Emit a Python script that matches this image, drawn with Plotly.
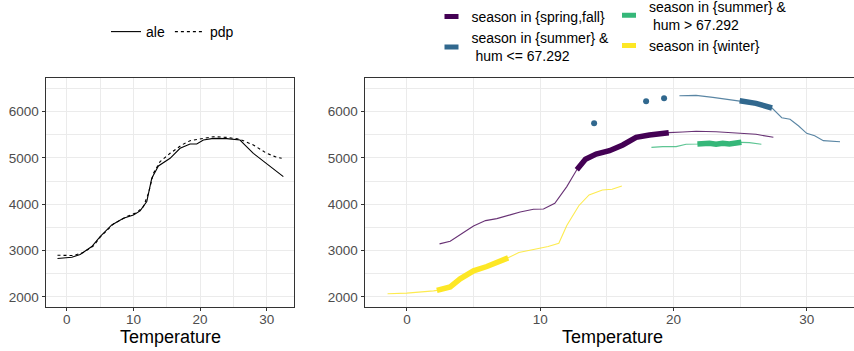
import plotly.graph_objects as go

# ---------------- data ----------------
# left panel: ale and pdp curves
ale_x = [-1.4, 0.75, 2, 3.75, 5, 6.75, 8.5, 10, 11, 12, 12.75, 13.75, 15.5, 17, 18.5, 19.5, 20.5, 22, 24, 26, 26.75, 28, 32.5]
ale_y = [2827, 2856, 2914, 3086, 3302, 3554, 3698, 3770, 3856, 4058, 4561, 4827, 4993, 5209, 5302, 5302, 5388, 5424, 5417, 5388, 5280, 5100, 4597]
pdp_x = [-1.4, 1, 2.5, 4, 5, 7, 9, 10.5, 11.5, 12.25, 13, 14, 15.5, 17.25, 18.5, 20, 22, 24, 26, 28, 30, 31.25, 32.25]
pdp_y = [2899, 2892, 2957, 3101, 3288, 3575, 3734, 3820, 3950, 4237, 4669, 4921, 5101, 5281, 5374, 5410, 5460, 5446, 5403, 5281, 5101, 5029, 4993]

# right panel: per-subgroup curves; flag = 1 where the curve is highlighted (thick)
spring_x = [2.45, 3.25, 4.25, 5, 5.9, 6.75, 7.75, 8.5, 9.5, 10.25, 11.1, 12, 12.75, 13.4, 14.2, 15.2, 16.2, 17.2, 18.2, 19.65, 20.7, 21.7, 23.2, 24.7, 26.2, 27.5]
spring_y = [3144, 3201, 3388, 3532, 3647, 3690, 3770, 3834, 3892, 3899, 4022, 4381, 4745, 4971, 5086, 5158, 5281, 5446, 5496, 5547, 5561, 5576, 5568, 5547, 5511, 5446]
spring_f = [0, 0, 0, 0, 0, 0, 0, 0, 0, 0, 0, 0, 1, 1, 1, 1, 1, 1, 1, 1, 0, 0, 0, 0, 0, 0]

sumlo_pts_x = [14.05, 17.95, 19.3]
sumlo_pts_y = [5750, 6225, 6290]
sumlo_x = [20.45, 21.7, 22.96, 23.97, 24.97, 26.2, 27.4, 28.13, 28.75, 29.4, 30.0, 30.6, 31.25, 32.5]
sumlo_y = [6345, 6353, 6309, 6266, 6237, 6180, 6080, 5870, 5836, 5690, 5533, 5482, 5374, 5352]
sumlo_f = [0, 0, 0, 0, 1, 1, 1, 0, 0, 0, 0, 0, 0, 0]

sumhi_x = [18.35, 19.2, 20.2, 20.95, 21.8, 22.7, 23.2, 23.7, 24.2, 25.1, 25.7, 26.6]
sumhi_y = [5230, 5245, 5245, 5295, 5302, 5317, 5295, 5317, 5302, 5338, 5331, 5295]
sumhi_f = [0, 0, 0, 0, 1, 1, 1, 1, 1, 1, 0, 0]

winter_x = [-1.45, 0, 2, 2.25, 3.25, 4, 5, 6, 7, 7.6, 8.4, 9.5, 10.6, 11.4, 12.0, 12.9, 13.67, 14.67, 15.4, 16.13]
winter_y = [2065, 2079, 2129, 2140, 2215, 2388, 2561, 2655, 2770, 2842, 2957, 3014, 3086, 3158, 3540, 3968, 4201, 4309, 4324, 4396]
winter_f = [0, 0, 0, 1, 1, 1, 1, 1, 1, 1, 0, 0, 0, 0, 0, 0, 0, 0, 0, 0]

group_names = [
    "season in {spring,fall}",
    "season in {summer} &amp;<br>\u00a0hum &lt;= 67.292",
    "season in {summer} &amp;<br>\u00a0hum &gt; 67.292",
    "season in {winter}",
]
group_colors = ["#440154", "#31688E", "#35B779", "#FDE725"]

x_ticks = [0, 10, 20, 30]
y_ticks = [2000, 3000, 4000, 5000, 6000]
x_title = "Temperature"

FONT = "Liberation Sans, Arial, sans-serif"
W, H = 854, 351

fig = go.Figure()

# left panel
fig.add_trace(go.Scatter(x=ale_x, y=ale_y, mode="lines", name="ale",
                         line=dict(color="black", width=1.1), legend="legend",
                         xaxis="x", yaxis="y"))
fig.add_trace(go.Scatter(x=pdp_x, y=pdp_y, mode="lines", name="pdp",
                         line=dict(color="black", width=1.1, dash="dot"), legend="legend",
                         xaxis="x", yaxis="y"))


def sub(xs, ys, fs):
    return [x for x, f in zip(xs, fs) if f], [y for y, f in zip(ys, fs) if f]


series = [
    (spring_x, spring_y, spring_f),
    (sumlo_x, sumlo_y, sumlo_f),
    (sumhi_x, sumhi_y, sumhi_f),
    (winter_x, winter_y, winter_f),
]
for (xs, ys, fs), c in zip(series, group_colors):
    fig.add_trace(go.Scatter(x=xs, y=ys, mode="lines", showlegend=False,
                             line=dict(color=c, width=1.1), opacity=0.8,
                             xaxis="x2", yaxis="y2"))
    tx, ty = sub(xs, ys, fs)
    fig.add_trace(go.Scatter(x=tx, y=ty, mode="lines", showlegend=False,
                             line=dict(color=c, width=5.5),
                             xaxis="x2", yaxis="y2"))

fig.add_trace(go.Scatter(x=sumlo_pts_x, y=sumlo_pts_y, mode="markers", showlegend=False,
                         marker=dict(color=group_colors[1], size=6),
                         xaxis="x2", yaxis="y2"))

# legend keys for the right panel (two columns)
legend_of = ["legend2", "legend2", "legend3", "legend3"]
for name, c, lg in zip(group_names, group_colors, legend_of):
    fig.add_trace(go.Scatter(x=[None], y=[None], mode="markers", name=name, legend=lg,
                             marker=dict(symbol="line-ew", size=10,
                                         line=dict(width=5, color=c)),
                             xaxis="x2", yaxis="y2"))

tickfont = dict(family=FONT, size=13.5, color="#4D4D4D")
grid_common = dict(showgrid=True, gridcolor="#EBEBEB", gridwidth=1, zeroline=False)
line_common = dict(showline=True, linecolor="#333333", linewidth=1)
tick_common = dict(ticks="outside", ticklen=3, tickcolor="#333333", tickwidth=1)

L_DOM = [45.5 / W, 294 / W]
R_DOM = [364.5 / W, 1.0]
Y_DOM = [1 - 307 / H, 1 - 78 / H]
L_RANGE = [-3.2, 34.1]
R_RANGE = [-3.18, 33.55]
Y_RANGE = [1780, 6728]
xminor = dict(dtick=5, tick0=5, showgrid=True, gridcolor="#EBEBEB", gridwidth=0.5)
yminor = dict(dtick=500, tick0=1500, showgrid=True, gridcolor="#EBEBEB", gridwidth=0.5)

fig.update_layout(
    width=W, height=H, autosize=False,
    margin=dict(l=0, r=0, t=0, b=0, pad=0, autoexpand=False),
    paper_bgcolor="white", plot_bgcolor="white",
    font=dict(family=FONT, color="black"),
    # x axes carrying labels + grid (no tick marks so labels sit close to the axis)
    xaxis=dict(domain=L_DOM, range=L_RANGE, tickvals=x_ticks, mirror=True, anchor="y",
               ticks="", minor=xminor, tickfont=tickfont, **grid_common, **line_common),
    xaxis2=dict(domain=R_DOM, range=R_RANGE, tickvals=x_ticks, mirror=True, anchor="y2",
                ticks="", minor=xminor, tickfont=tickfont, **grid_common, **line_common),
    # overlay axes drawing only the tick marks
    xaxis3=dict(overlaying="x", matches="x", anchor="y", tickvals=x_ticks, showticklabels=False,
                showgrid=False, zeroline=False, showline=False, **tick_common),
    xaxis4=dict(overlaying="x2", matches="x2", anchor="y2", tickvals=x_ticks, showticklabels=False,
                showgrid=False, zeroline=False, showline=False, **tick_common),
    yaxis=dict(domain=Y_DOM, range=Y_RANGE, tickvals=y_ticks, mirror=True, anchor="x",
               minor=yminor, tickfont=tickfont, **grid_common, **line_common, **tick_common),
    yaxis2=dict(domain=Y_DOM, range=Y_RANGE, tickvals=y_ticks, mirror=False, anchor="x2",
                minor=yminor, tickfont=tickfont, **grid_common, **line_common, **tick_common),
    legend=dict(orientation="h", x=106 / W, y=1 - 16 / H, xanchor="left", yanchor="top",
                font=dict(family=FONT, size=14, color="black"), bgcolor="rgba(0,0,0,0)"),
    legend2=dict(orientation="v", x=431.5 / W, y=1 - 1 / H, xanchor="left", yanchor="top",
                 font=dict(family=FONT, size=14, color="black"), bgcolor="rgba(0,0,0,0)"),
    legend3=dict(orientation="v", x=609 / W, y=1 + 9.5 / H, xanchor="left", yanchor="top",
                 font=dict(family=FONT, size=14, color="black"), bgcolor="rgba(0,0,0,0)"),
    annotations=[
        dict(text=x_title, xref="paper", yref="paper", x=170 / W, y=1 - 336.5 / H,
             xanchor="center", yanchor="middle", showarrow=False,
             font=dict(family=FONT, size=18, color="black")),
        dict(text=x_title, xref="paper", yref="paper", x=612 / W, y=1 - 336.5 / H,
             xanchor="center", yanchor="middle", showarrow=False,
             font=dict(family=FONT, size=18, color="black")),
    ],
)

# invisible helper traces so the tick-mark overlay axes are rendered
fig.add_trace(go.Scatter(x=[None], y=[None], showlegend=False, hoverinfo="skip",
                         xaxis="x3", yaxis="y"))
fig.add_trace(go.Scatter(x=[None], y=[None], showlegend=False, hoverinfo="skip",
                         xaxis="x4", yaxis="y2"))

fig.write_html("out.html")
